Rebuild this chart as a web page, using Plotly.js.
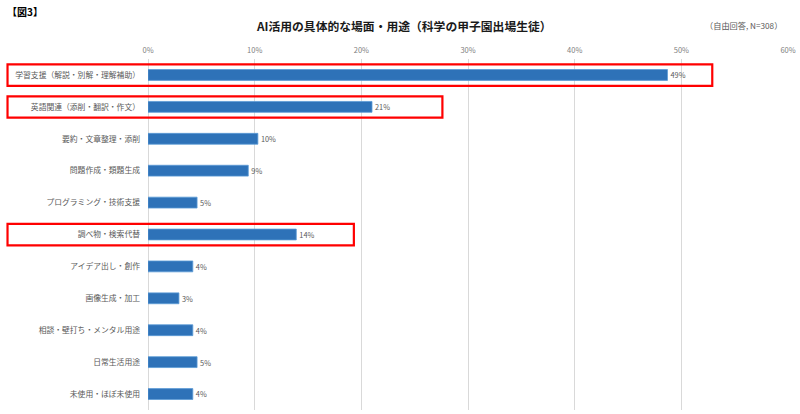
<!DOCTYPE html>
<html><head><meta charset="utf-8">
<script src="https://cdn.plot.ly/plotly-3.0.1.min.js"></script>
<style>html,body{margin:0;padding:0;background:#fff}</style>
</head><body>
<div id="chart" style="width:800px;height:414px"></div>
<script>
const categories = ["学習支援（解説・別解・理解補助）","英語関連（添削・翻訳・作文）","要約・文章整理・添削","問題作成・類題生成","プログラミング・技術支援","調べ物・検索代替","アイデア出し・創作","画像生成・加工","相談・壁打ち・メンタル用途","日常生活用途","未使用・ほぼ未使用"];
const values = [48.7, 21.0, 10.3, 9.4, 4.6, 13.9, 4.2, 2.9, 4.2, 4.6, 4.2];
const highlighted = [0, 1, 5];
const highlightRight = [52.9, 27.6, 19.3];
const tickVals = [0,10,20,30,40,50,60];
const tickText = ["0%","10%","20%","30%","40%","50%","60%"];

const font = "'Noto Sans CJK JP','Noto Sans',sans-serif";
const trace = {
  type: 'bar', orientation: 'h',
  x: values, y: categories,
  marker: {color: '#2e72b8', line: {color: '#5b9bd5', width: 0.8}},
  text: values.map(v => Math.round(v) + '%'),
  textposition: 'outside',
  textfont: {size: 7.5, color: '#595959', family: font},
  cliponaxis: false,
  hoverinfo: 'skip'
};
const shapes = highlighted.map((idx, i) => ({
  type: 'rect', xref: 'paper', yref: 'y',
  x0: -0.2195, x1: (highlightRight[i]) / 60,
  y0: idx - 0.33, y1: idx + 0.34,
  line: {color: '#ff0000', width: 2.2}, fillcolor: 'rgba(0,0,0,0)'
}));
const layout = {
  width: 800, height: 414,
  margin: {l: 148, r: 12, t: 59, b: 4},
  paper_bgcolor: '#fff', plot_bgcolor: '#fff',
  font: {family: font, color: '#595959'},
  showlegend: false,
  bargap: 0.66,
  xaxis: {side: 'top', range: [0, 60], tickvals: tickVals, ticktext: tickText,
    showgrid: true, gridcolor: '#d9d9d9', gridwidth: 1, zeroline: true, zerolinecolor: '#d9d9d9',
    zerolinewidth: 1, ticklabelstandoff: 4,
    tickfont: {size: 7.5, color: '#808080'}, ticks: '', ticklen: 0, fixedrange: true},
  yaxis: {autorange: 'reversed', tickfont: {size: 7.8, color: '#595959'}, ticks: '',
    ticklabelstandoff: 7, showgrid: false, fixedrange: true},
  shapes: shapes,
  annotations: [
    {text: '<b>【図3】</b>', xref: 'paper', yref: 'paper', x: -0.2234, y: 1, yshift: 48,
     xanchor: 'left', yanchor: 'middle', showarrow: false, font: {size: 10, color: '#000', family: font}},
    {text: '<b>AI活用の具体的な場面・用途（科学の甲子園出場生徒）</b>', xref: 'paper', yref: 'paper',
     x: (404 - 148) / 640, y: 1, yshift: 34, xanchor: 'center', yanchor: 'middle', showarrow: false,
     font: {size: 11.8, color: '#1a1a1a', family: font}},
    {text: '（自由回答, N=308）', xref: 'paper', yref: 'paper', x: (784 - 148) / 640, y: 1, yshift: 34,
     xanchor: 'right', yanchor: 'middle', showarrow: false, font: {size: 8.2, color: '#595959', family: font}}
  ]
};
Plotly.newPlot('chart', [trace], layout, {displayModeBar: false, staticPlot: true});
</script>
</body></html>
